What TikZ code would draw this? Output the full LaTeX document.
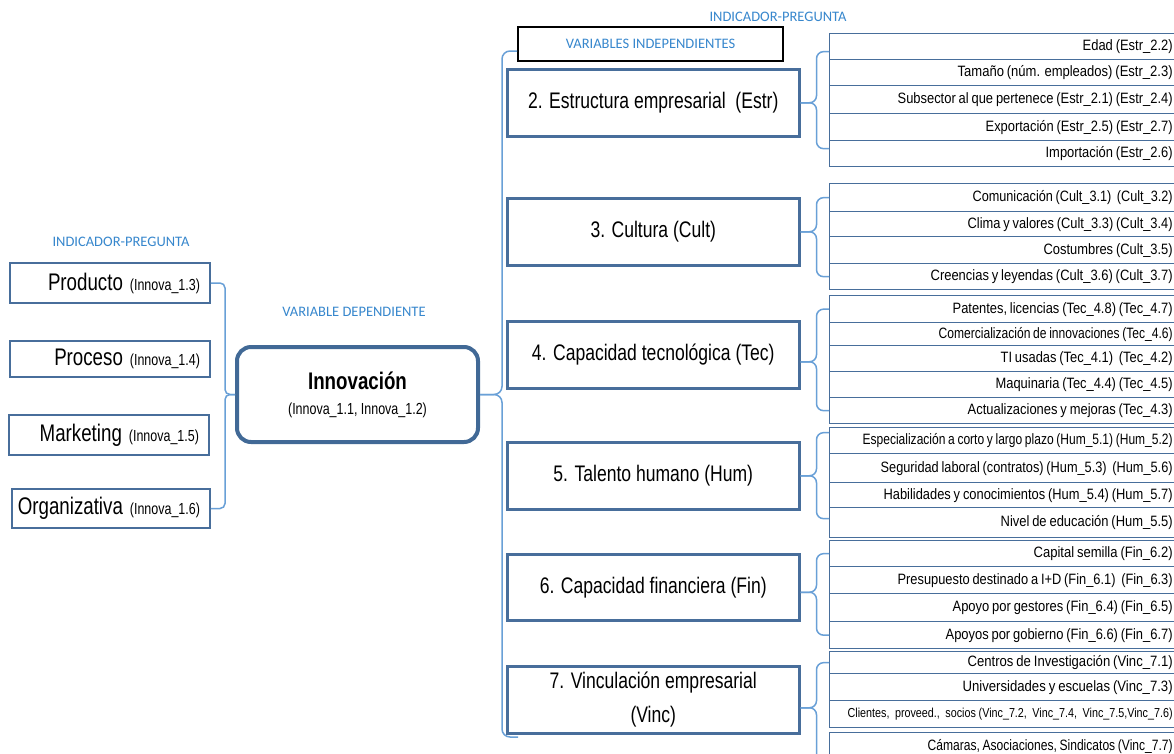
\documentclass[tikz,border=0pt]{standalone}
\usepackage{fontspec}
\usepackage{graphicx}
\setmainfont{Liberation Sans}
\newfontfamily\nar[FakeStretch=0.78]{Liberation Sans}
\newfontfamily\calib{Carlito}
\definecolor{boxcol}{RGB}{72,110,155}
\definecolor{bracecol}{RGB}{105,160,215}
\definecolor{innovcol}{RGB}{65,105,150}
\definecolor{labblue}{RGB}{55,135,205}
\newcommand{\fitw}[2]{\resizebox{#1pt}{\height}{\fontsize{15}{17}\selectfont #2}}
\newcommand{\fitsm}[2]{\resizebox{#1pt}{\height}{\fontsize{13}{15}\selectfont #2}}
\newcommand{\lefttxt}[2]{{\fontsize{24}{28}\selectfont #1}\hspace{7pt}{\fontsize{16}{19}\selectfont #2}}
\begin{document}
\begin{tikzpicture}[x=1pt,y=-1pt,
  lab/.style={font={\calib\fontsize{14.5}{17}\selectfont}, text=labblue, inner sep=0pt},
  lbox/.style={draw=boxcol, line width=1.5pt, minimum width=200pt, inner sep=0pt, font=\nar},
  mbox/.style={draw=boxcol, line width=2.5pt, minimum width=292pt, inner sep=0pt, anchor=north west,
               align=center, font={\nar\fontsize{22.5}{34}\selectfont}},
  rbox/.style={draw=boxcol, line width=1.3pt, anchor=north west, minimum width=351pt,
               text width=335pt, align=right, inner xsep=8pt, inner ysep=0pt},
  innov/.style={draw=innovcol, line width=4pt, rounded corners=14pt, minimum width=241pt,
               minimum height=95pt, align=center, inner sep=0pt, font={\nar\fontsize{16}{26}\selectfont}},
  brace/.style={draw=bracecol, line width=1.5pt, rounded corners=7pt}
]
\useasboundingbox (0,0) rectangle (1174,753);
\fill[white] (0,0) rectangle (1174,753);
\clip (0,0) rectangle (1174,753);

% labels
\node[lab] (labtop) at (778,17) {INDICADOR-PREGUNTA};
\node[lab] (lableft) at (121,242) {INDICADOR-PREGUNTA};
\node[lab] (labdep) at (354,312) {VARIABLE DEPENDIENTE};
\node[draw=black, line width=2pt, minimum width=265pt, minimum height=34pt, inner sep=0pt,
      font={\calib\fontsize{14.5}{17}\selectfont}, text=labblue] (vi) at (650.5,44) {VARIABLES INDEPENDIENTES};

% left indicator boxes
\node[lbox, minimum height=40pt] (prod) at (110,283)
  {\makebox[180pt][r]{\lefttxt{Producto}{(Innova\_1.3)}}};
\node[lbox, minimum height=36pt] (proc) at (110,359)
  {\makebox[180pt][r]{\lefttxt{Proceso}{(Innova\_1.4)}}};
\node[lbox, minimum height=40pt] (mark) at (109,435)
  {\makebox[180pt][r]{\lefttxt{Marketing}{(Innova\_1.5)}}};
\node[lbox, minimum height=39pt, minimum width=198pt] (org) at (111,508.5)
  {\makebox[178pt][r]{\lefttxt{Organizativa}{(Innova\_1.6)}}};

% central node
\node[innov] (inn) at (357.5,394.5)
  {{\bfseries\fontsize{24}{26}\selectfont Innovación}\\[-1pt](Innova\_1.1, Innova\_1.2)};

% middle column
\node[mbox, minimum height=67pt] (b2) at (506,68) {2. Estructura empresarial\ \ (Estr)};
\node[mbox, minimum height=67pt] (b3) at (506,197) {3. Cultura (Cult)};
\node[mbox, minimum height=67pt] (b4) at (506,320) {4. Capacidad tecnológica (Tec)};
\node[mbox, minimum height=67pt] (b5) at (506,441) {5. Talento humano (Hum)};
\node[mbox, minimum height=66pt] (b6) at (506,553) {6. Capacidad financiera (Fin)};
\node[mbox, minimum height=67pt] (b7) at (506,665) {7. Vinculación empresarial\\(Vinc)};

% right column: Estr
\node[rbox, minimum height=26pt] (e1) at (829,33) {\fitw{90}{Edad (Estr\_2.2)}};
\node[rbox, minimum height=26pt] (e2) at (829,59) {\fitw{215}{Tamaño\ (núm. empleados) (Estr\_2.3)}};
\node[rbox, minimum height=28pt] (e3) at (829,85) {\fitw{275}{Subsector al que pertenece (Estr\_2.1) (Estr\_2.4)}};
\node[rbox, minimum height=27pt] (e4) at (829,113) {\fitw{187}{Exportación (Estr\_2.5) (Estr\_2.7)}};
\node[rbox, minimum height=26pt] (e5) at (829,140) {\fitw{127}{Importación (Estr\_2.6)}};
% Cult
\node[rbox, minimum height=28pt] (c1) at (829,183) {\fitw{200}{Comunicación (Cult\_3.1)\ \ (Cult\_3.2)}};
\node[rbox, minimum height=25pt] (c2) at (829,211) {\fitw{205}{Clima y valores (Cult\_3.3) (Cult\_3.4)}};
\node[rbox, minimum height=27pt] (c3) at (829,236) {\fitw{129}{Costumbres (Cult\_3.5)}};
\node[rbox, minimum height=26pt] (c4) at (829,263) {\fitw{242}{Creencias y leyendas (Cult\_3.6) (Cult\_3.7)}};
% Tec
\node[rbox, minimum height=27pt] (t1) at (829,295) {\fitw{220}{Patentes, licencias (Tec\_4.8) (Tec\_4.7)}};
\node[rbox, minimum height=23pt] (t2) at (829,322) {\fitw{234}{Comercialización de innovaciones (Tec\_4.6)}};
\node[rbox, minimum height=26pt] (t3) at (829,345) {\fitw{172}{TI usadas (Tec\_4.1)\ \ (Tec\_4.2)}};
\node[rbox, minimum height=26pt] (t4) at (829,371) {\fitw{177}{Maquinaria (Tec\_4.4) (Tec\_4.5)}};
\node[rbox, minimum height=26pt] (t5) at (829,397) {\fitw{205}{Actualizaciones y mejoras (Tec\_4.3)}};
% Hum
\node[rbox, minimum height=26pt] (h1) at (829,427) {\fitw{310}{Especialización a corto y largo plazo (Hum\_5.1) (Hum\_5.2)}};
\node[rbox, minimum height=29pt] (h2) at (829,453) {\fitw{292}{Seguridad laboral (contratos) (Hum\_5.3)\ \ (Hum\_5.6)}};
\node[rbox, minimum height=25pt] (h3) at (829,482) {\fitw{289}{Habilidades y conocimientos (Hum\_5.4) (Hum\_5.7)}};
\node[rbox, minimum height=30pt] (h4) at (829,507) {\fitw{172}{Nivel de educación (Hum\_5.5)}};
% Fin
\node[rbox, minimum height=26pt] (f1) at (829,540) {\fitw{139}{Capital semilla (Fin\_6.2)}};
\node[rbox, minimum height=27pt] (f2) at (829,566) {\fitw{275}{Presupuesto destinado a I+D (Fin\_6.1)\ \ (Fin\_6.3)}};
\node[rbox, minimum height=28pt] (f3) at (829,593) {\fitw{220}{Apoyo por gestores (Fin\_6.4) (Fin\_6.5)}};
\node[rbox, minimum height=27pt] (f4) at (829,621) {\fitw{227}{Apoyos por gobierno (Fin\_6.6) (Fin\_6.7)}};
% Vinc
\node[rbox, minimum height=22pt] (v1) at (829,651) {\fitw{205}{Centros de Investigación (Vinc\_7.1)}};
\node[rbox, minimum height=27pt] (v2) at (829,673) {\fitw{210}{Universidades y escuelas (Vinc\_7.3)}};
\node[rbox, minimum height=27pt] (v3) at (829,700) {\fitsm{325}{Clientes,\ \ proveed.,\ \ socios (Vinc\_7.2,\ \ Vinc\_7.4,\ \ Vinc\_7.5,Vinc\_7.6)}};
\node[rbox, minimum height=28pt] (v4) at (829,732) {\fitw{245}{Cámaras, Asociaciones, Sindicatos (Vinc\_7.7)}};

\coordinate (vend) at (518,737);
\coordinate (vincend) at (829,790);

% left brace
\draw[brace, rounded corners=5pt] (inn.west) -- ++(-10,0) |- (prod.east);
\draw[brace, rounded corners=5pt] (inn.west) -- ++(-10,0) |- (org.east);
% big brace
\draw[brace, rounded corners=8pt] (inn.east) -- ++(22,0) |- ([yshift=-7pt]vi.west);
\draw[brace, rounded corners=8pt] (inn.east) -- ++(22,0) |- (vend);
% right braces
\draw[brace] (b2.east) -- ++(16,0) |- ([yshift=-5pt]e1.west);
\draw[brace] (b2.east) -- ++(16,0) |- ([yshift=5pt]e5.west);
\draw[brace] (b3.east) -- ++(16,0) |- (c1.west);
\draw[brace] (b3.east) -- ++(16,0) |- (c4.west);
\draw[brace] ([yshift=-7pt]b4.east) -- ++(16,0) |- (t1.west);
\draw[brace] ([yshift=-7pt]b4.east) -- ++(16,0) |- (t5.west);
\draw[brace] (b5.east) -- ++(16,0) |- ([yshift=8pt]h1.west);
\draw[brace] (b5.east) -- ++(16,0) |- ([yshift=4pt]h4.west);
\draw[brace] ([yshift=-5pt]b6.east) -- ++(16,0) |- (f1.west);
\draw[brace] ([yshift=-5pt]b6.east) -- ++(16,0) |- (f4.west);
\draw[brace] ([yshift=-8pt]b7.east) -- ++(16,0) |- (v1.west);
\draw[brace] ([yshift=-8pt]b7.east) -- ++(16,0) |- (vincend);
\end{tikzpicture}
\end{document}
